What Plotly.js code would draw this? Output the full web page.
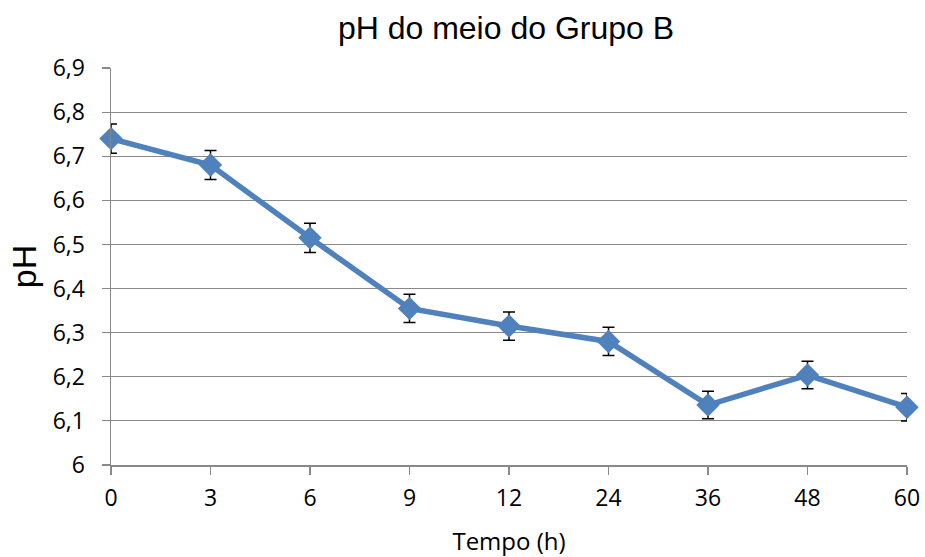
<!DOCTYPE html>
<html>
<head>
<meta charset="utf-8">
<script src="https://cdn.plot.ly/plotly-3.0.1.min.js"></script>
<style>html,body{margin:0;padding:0;background:#fff;}#chart{width:925px;height:557px;}</style>
</head>
<body>
<div id="chart"></div>
<script>
const categories = ["0", "3", "6", "9", "12", "24", "36", "48", "60"];
const phValues = [6.74, 6.68, 6.515, 6.355, 6.315, 6.28, 6.136, 6.204, 6.131];
const phErrors = [0.033, 0.033, 0.033, 0.032, 0.032, 0.032, 0.031, 0.031, 0.031];
const yTickVals = [6, 6.1, 6.2, 6.3, 6.4, 6.5, 6.6, 6.7, 6.8, 6.9];
const yTickText = ["6", "6,1", "6,2", "6,3", "6,4", "6,5", "6,6", "6,7", "6,8", "6,9"];

const trace = {
  x: categories,
  y: phValues,
  type: "scatter",
  mode: "lines+markers",
  line: {color: "#4F81BD", width: 5.5},
  marker: {symbol: "diamond", size: 18, color: "#4F81BD"},
  error_y: {type: "data", array: phErrors, visible: true, color: "#000000", thickness: 1.5, width: 6},
  cliponaxis: false,
  hoverinfo: "skip"
};

const layout = {
  width: 925, height: 557,
  margin: {l: 111, r: 18, t: 68, b: 92},
  paper_bgcolor: "#ffffff", plot_bgcolor: "#ffffff",
  showlegend: false,
  title: {text: "pH do meio do Grupo B", font: {family: "Liberation Sans, Arial", size: 32, color: "#000"}, x: 0.547, xanchor: "center", y: 0.95, yanchor: "middle"},
  xaxis: {
    type: "category",
    range: [0, 8],
    showgrid: false,
    showline: true, linecolor: "#898989", linewidth: 1.5,
    ticks: "outside", ticklen: 8, tickcolor: "#898989", tickwidth: 1.5,
    ticklabelstandoff: 4,
    tickfont: {family: "Open Sans", size: 23, color: "#000"},
    title: {text: "Tempo (h)", font: {family: "Open Sans", size: 24, color: "#000"}, standoff: 22},
    zeroline: false
  },
  yaxis: {
    range: [6, 6.9],
    tickvals: yTickVals, ticktext: yTickText,
    showgrid: true, gridcolor: "#898989", gridwidth: 1.2,
    showline: true, linecolor: "#898989", linewidth: 1.5,
    ticks: "outside", ticklen: 8, tickcolor: "#898989", tickwidth: 1.2,
    ticklabelstandoff: 12,
    tickfont: {family: "Open Sans", size: 23, color: "#000"},
    title: {text: "pH", font: {family: "Liberation Sans, Arial", size: 34, color: "#000"}, standoff: 5},
    zeroline: false
  }
};

Plotly.newPlot("chart", [trace], layout, {displayModeBar: false, staticPlot: true});
</script>
</body>
</html>
